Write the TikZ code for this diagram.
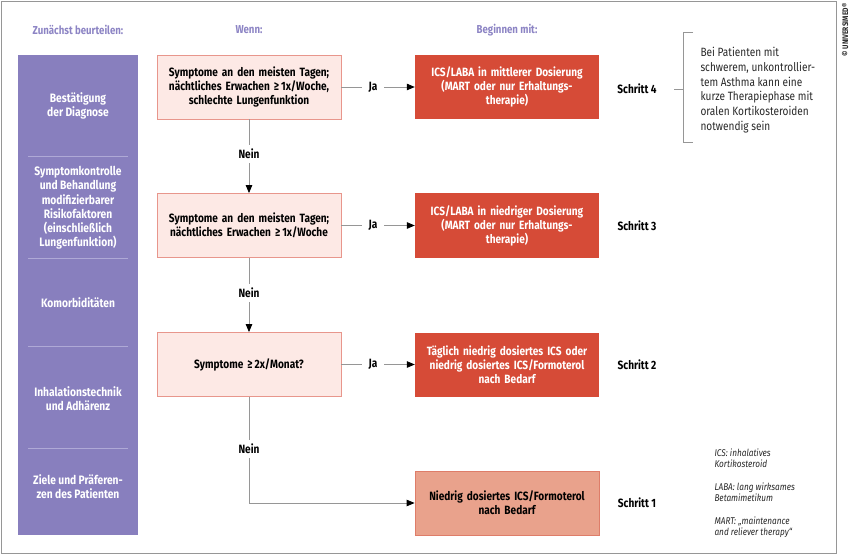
\documentclass[tikz,border=0pt]{standalone}
\usepackage{fontspec}
\setmainfont{Fira Sans}[FakeStretch=0.84]
\usetikzlibrary{arrows.meta}
\definecolor{framec}{RGB}{150,150,150}
\definecolor{purp}{RGB}{136,127,190}
\definecolor{purptxt}{RGB}{140,132,196}
\definecolor{divc}{RGB}{175,169,214}
\definecolor{condf}{RGB}{253,233,229}
\definecolor{condb}{RGB}{232,150,140}
\definecolor{resf}{RGB}{214,75,55}
\definecolor{salf}{RGB}{233,162,140}
\definecolor{salb}{RGB}{222,125,105}
\definecolor{linec}{RGB}{150,150,150}
\definecolor{txtc}{RGB}{40,40,40}
\begin{document}
\begin{tikzpicture}[x=1pt,y=-1pt,
  boldf/.style={font=\fontsize{12}{14}\selectfont\bfseries},
  cond/.style={draw=condb, fill=condf, line width=0.8pt, minimum width=184pt,
    minimum height=64pt, text width=180pt, align=center, inner sep=0pt, boldf},
  res/.style={fill=resf, minimum width=184pt, minimum height=64pt, text width=180pt,
    align=center, inner sep=0pt, boldf, text=white},
  resone/.style={res, fill=salf, draw=salb, line width=0.8pt, text=black},
  flow/.style={draw=linec, line width=0.8pt, -{Triangle[color=black, length=8pt, width=6.5pt]}},
  lab/.style={fill=white, inner xsep=7pt, inner ysep=4pt, boldf},
  hdr/.style={font=\fontsize{11.5}{14}\selectfont\bfseries, text=purptxt},
  side/.style={font=\fontsize{12.2}{14.2}\selectfont\bfseries, text=white, align=center},
  schritt/.style={font=\fontsize{12}{14}\selectfont\bfseries},
  divline/.style={draw=divc, line width=0.8pt}
]
\useasboundingbox (0,0) rectangle (854,556);
\draw[framec, line width=1pt] (1.5,2) rectangle (836,553);
\node[rotate=90, font=\fontsize{8}{9}\selectfont\bfseries, text=txtc] (copy) at (845,30) {© UNIVERSIMED®};

% headers
\node[hdr] (h1) at (78,30) {Zunächst beurteilen:};
\node[hdr] (h2) at (249,30) {Wenn:};
\node[hdr] (h3) at (507,30) {Beginnen mit:};

% purple column
\fill[purp] (18,55) rectangle (138,535);
\draw[divline] (28,156) -- (128,156);
\draw[divline] (28,258) -- (128,258);
\draw[divline] (28,346) -- (128,346);
\draw[divline] (28,448) -- (128,448);
\node[side] (s1) at (78,106) {Bestätigung\\der Diagnose};
\node[side] (s2) at (78,208) {Symptomkontrolle\\und Behandlung\\modifizierbarer\\Risikofaktoren\\(einschließlich\\Lungenfunktion)};
\node[side] (s3) at (78,303) {Komorbiditäten};
\node[side] (s4) at (78,399) {Inhalationstechnik\\und Adhärenz};
\node[side] (s5) at (78,487) {Ziele und Präferen-\\zen des Patienten};

% condition boxes
\node[cond] (c1) at (249,87) {Symptome an den meisten Tagen;\\nächtliches Erwachen ≥\,1x/Woche,\\schlechte Lungenfunktion};
\node[cond] (c2) at (249,225.5) {Symptome an den meisten Tagen;\\nächtliches Erwachen ≥\,1x/Woche};
\node[cond] (c3) at (249,364.5) {Symptome ≥\,2x/Monat?};

% result boxes
\node[res] (r4) at (507,87) {ICS/LABA in mittlerer Dosierung\\(MART oder nur Erhaltungs-\\therapie)};
\node[res] (r3) at (507,225.5) {ICS/LABA in niedriger Dosierung\\(MART oder nur Erhaltungs-\\therapie)};
\node[res] (r2) at (507,364.5) {Täglich niedrig dosiertes ICS oder\\niedrig dosiertes ICS/Formoterol\\nach Bedarf};
\node[resone] (r1) at (507,503) {Niedrig dosiertes ICS/Formoterol\\nach Bedarf};

% connectors
\draw[flow] (c1) -- node[lab, pos=0.43] {Ja} (r4);
\draw[flow] (c2) -- node[lab, pos=0.43] {Ja} (r3);
\draw[flow] (c3) -- node[lab, pos=0.43] {Ja} (r2);
\draw[flow] (c1) -- node[lab, pos=0.47] {Nein} (c2);
\draw[flow] (c2) -- node[lab, pos=0.47] {Nein} (c3);
\draw[flow] (c3.south) |- node[lab, pos=0.245] {Nein} (r1.west);

% steps
\node[schritt] (t4) at (637,89) {Schritt 4};
\node[schritt] (t3) at (637,226) {Schritt 3};
\node[schritt] (t2) at (637,365) {Schritt 2};
\node[schritt] (t1) at (637,503) {Schritt 1};

% bracket and note
\draw[linec, line width=0.8pt] (693,32) -- (683,32) -- (683,142) -- (693,142);
\draw[linec, line width=0.8pt] (674,89) -- (683,89);
\node[anchor=west, align=left, text=txtc, font=\fontsize{12}{14.8}\selectfont] (note) at (697,90)
  {Bei Patienten mit\\schwerem, unkontrollier-\\tem Asthma kann eine\\kurze Therapiephase mit\\oralen Kortikosteroiden\\notwendig sein};

% legend
\node[anchor=west, align=left, text=txtc, font=\fontsize{9.8}{11}\selectfont\itshape] (leg) at (711,493)
  {ICS: inhalatives\\Kortikosteroid\\[12pt]LABA: lang wirksames\\Betamimetikum\\[12pt]MART: „maintenance\\and reliever therapy“};
\end{tikzpicture}
\end{document}
